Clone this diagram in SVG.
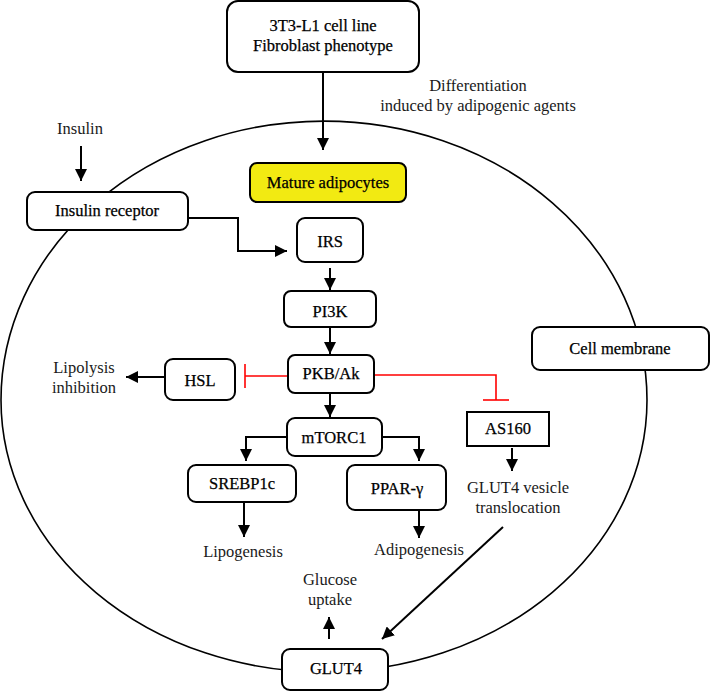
<svg xmlns="http://www.w3.org/2000/svg" width="710" height="691" viewBox="0 0 710 691">
<defs>
<style>
.box{fill:#fff;stroke:#000;stroke-width:2}
.lbl{font-family:"Liberation Serif","Times New Roman",serif;font-size:16.5px;fill:#000;stroke:#000;stroke-width:0.25;text-anchor:middle}
.txt{font-family:"Liberation Serif","Times New Roman",serif;font-size:16.5px;fill:#1a1a1a;text-anchor:middle}
.con{fill:none;stroke:#000;stroke-width:2}
.inh{fill:none;stroke:#f00;stroke-width:1.6}
.mem{fill:none;stroke:#000;stroke-width:1.6}
</style>
<marker id="ah" markerUnits="userSpaceOnUse" markerWidth="12" markerHeight="12" refX="12" refY="6" orient="auto">
<path d="M0,0 L12,6 L0,12 z" fill="#000"/>
</marker>
</defs>
<rect width="710" height="691" fill="#fff"/>
<path id="cell" class="mem" d="M1,400 A323,279 0 0 1 647,400 A323,272 0 0 1 1,400 Z"/>
<g id="connectors">
<line class="con" x1="323" y1="72" x2="323" y2="150" marker-end="url(#ah)"/>
<line class="con" x1="81" y1="146" x2="81" y2="181" marker-end="url(#ah)"/>
<polyline class="con" points="188,218 238,218 238,251 287,251" marker-end="url(#ah)"/>
<line class="con" x1="330" y1="268" x2="330" y2="290" marker-end="url(#ah)"/>
<line class="con" x1="330" y1="328" x2="330" y2="354" marker-end="url(#ah)"/>
<line class="con" x1="165" y1="377" x2="126" y2="377" marker-end="url(#ah)"/>
<line class="con" x1="330" y1="393" x2="330" y2="417" marker-end="url(#ah)"/>
<polyline class="con" points="287,437 246,437 246,461" marker-end="url(#ah)"/>
<polyline class="con" points="382,437 419,437 419,461" marker-end="url(#ah)"/>
<line class="con" x1="512" y1="448" x2="512" y2="471" marker-end="url(#ah)"/>
<line class="con" x1="244" y1="502" x2="244" y2="537" marker-end="url(#ah)"/>
<line class="con" x1="419" y1="510" x2="419" y2="538" marker-end="url(#ah)"/>
<line class="con" x1="503" y1="527" x2="382" y2="639" marker-end="url(#ah)"/>
<line class="con" x1="329" y1="639" x2="329" y2="617" marker-end="url(#ah)"/>
<polyline class="inh" points="288,376 245,376"/>
<line class="inh" x1="245" y1="364" x2="245" y2="388"/>
<polyline class="inh" points="374,375 496,375 496,400"/>
<line class="inh" x1="483" y1="400" x2="509" y2="400"/>
</g>
<g id="n-3t3">
<rect class="box" x="227" y="1" width="192" height="71" rx="11"/>
<text class="lbl" x="323" y="30.5">3T3-L1 cell line</text>
<text class="lbl" x="323" y="50.5">Fibroblast phenotype</text>
</g>
<g id="t-diff">
<text class="txt" x="478" y="90.5">Differentiation</text>
<text class="txt" x="478" y="110.5">induced by adipogenic agents</text>
</g>
<g id="t-insulin"><text class="txt" x="80" y="133.5">Insulin</text></g>
<g id="n-receptor">
<rect class="box" x="27" y="192" width="161" height="38" rx="8"/>
<text class="lbl" x="107" y="215.5">Insulin receptor</text>
</g>
<g id="n-mature">
<rect class="box" x="250" y="163" width="156" height="39" rx="7" style="fill:#f2ea12"/>
<text class="lbl" x="328" y="188">Mature adipocytes</text>
</g>
<g id="n-irs">
<rect class="box" x="297" y="218" width="66" height="44" rx="8"/>
<text class="lbl" x="330" y="246.5">IRS</text>
</g>
<g id="n-pi3k">
<rect class="box" x="284" y="291" width="92" height="36" rx="7"/>
<text class="lbl" x="330" y="316.5">PI3K</text>
</g>
<g id="n-pkb">
<rect class="box" x="288" y="355" width="86" height="38" rx="7"/>
<text class="lbl" x="331" y="379">PKB/Ak</text>
</g>
<g id="n-hsl">
<rect class="box" x="165" y="359" width="70" height="41" rx="8"/>
<text class="lbl" x="200" y="385.5">HSL</text>
</g>
<g id="t-lipolysis">
<text class="txt" x="84" y="372.5">Lipolysis</text>
<text class="txt" x="84" y="392.5">inhibition</text>
</g>
<g id="n-membrane">
<rect class="box" x="532" y="327" width="177" height="43" rx="8"/>
<text class="lbl" x="620" y="354">Cell membrane</text>
</g>
<g id="n-as160">
<rect class="box" x="467" y="412" width="82" height="34"/>
<text class="lbl" x="508" y="434">AS160</text>
</g>
<g id="n-mtorc1">
<rect class="box" x="287" y="418" width="95" height="38" rx="8"/>
<text class="lbl" x="334" y="442.5">mTORC1</text>
</g>
<g id="n-srebp">
<rect class="box" x="188" y="465" width="108" height="37" rx="8"/>
<text class="lbl" x="242" y="488.5">SREBP1c</text>
</g>
<g id="n-ppar">
<rect class="box" x="347" y="465" width="99" height="45" rx="8"/>
<text class="lbl" x="397" y="494">PPAR-γ</text>
</g>
<g id="t-vesicle">
<text class="txt" x="518" y="492.5">GLUT4 vesicle</text>
<text class="txt" x="518" y="512.5">translocation</text>
</g>
<g id="t-lipogenesis"><text class="txt" x="243" y="556.5">Lipogenesis</text></g>
<g id="t-adipogenesis"><text class="txt" x="419" y="554.5">Adipogenesis</text></g>
<g id="t-glucose">
<text class="txt" x="330" y="584.5">Glucose</text>
<text class="txt" x="330" y="604.5">uptake</text>
</g>
<g id="n-glut4">
<rect class="box" x="282" y="649" width="106" height="41" rx="8"/>
<text class="lbl" x="336" y="673.5">GLUT4</text>
</g>
</svg>
